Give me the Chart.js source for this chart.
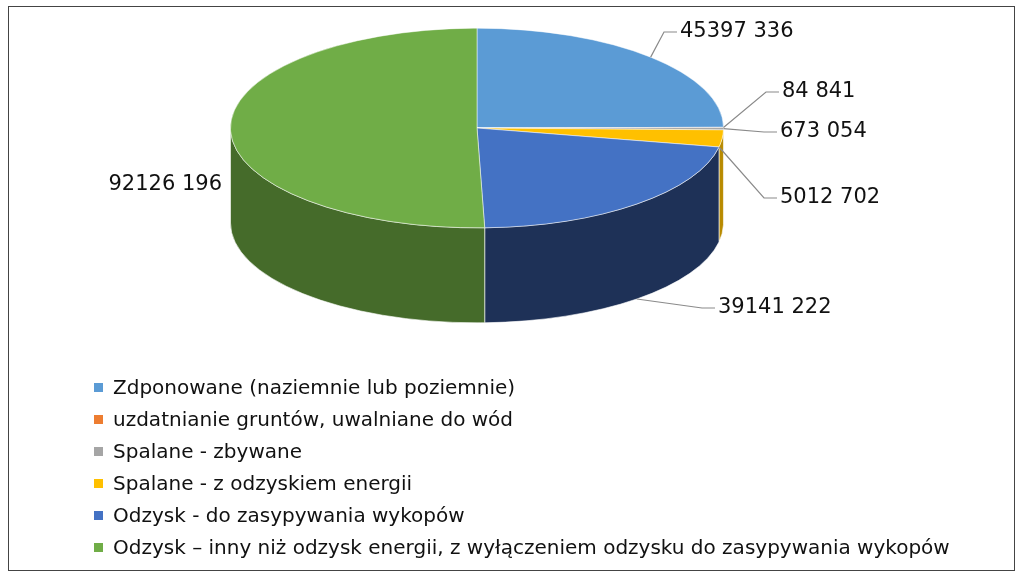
<!DOCTYPE html>
<html><head><meta charset="utf-8">
<script src="https://cdn.jsdelivr.net/npm/chart.js@4"></script>
<style>
body{margin:0;background:#fff;}
#wrap{position:relative;width:1024px;height:579px;}
#frame{position:absolute;left:8px;top:6px;width:1007px;height:565px;border:1px solid #444;box-sizing:border-box;}
canvas{position:absolute;left:0;top:0;}
#legend{position:absolute;left:94px;top:373px;font-family:"DejaVu Sans",sans-serif;font-size:20px;color:#111;}
#legend div{height:32px;line-height:28px;white-space:nowrap;}
#legend span{display:inline-block;width:9px;height:9px;margin-right:10px;vertical-align:2px;}
</style></head><body>
<div id="wrap"><div id="frame"></div><canvas id="c" width="1024" height="579"></canvas><div id="legend"></div></div>
<script>
const categories=["Zdponowane (naziemnie lub poziemnie)","uzdatnianie gruntów, uwalniane do wód","Spalane - zbywane","Spalane - z odzyskiem energii","Odzysk - do zasypywania wykopów","Odzysk – inny niż odzysk energii, z wyłączeniem odzysku do zasypywania wykopów"];
const values=[45397336,84841,673054,5012702,39141222,92126196];
const valueLabels=["45397 336","84 841","673 054","5012 702","39141 222","92126 196"];
const colors=["#5B9BD5","#ED7D31","#A5A5A5","#FFC000","#4472C4","#70AD47"];
const sideColors=["#3A6E9E","#A9561E","#777","#B88A00","#1E3157","#456B2A"];

const CX=477,CY=128,K=0.405,DEPTH=95;
document.getElementById('legend').innerHTML=categories.map((c,i)=>`<div><span style="background:${colors[i]}"></span>${c}</div>`).join('');

function pt(a,R,d){return [CX+R*Math.cos(a),CY+R*K*Math.sin(a)+(d||0)];}
const labelPos=[[680,32,'L'],[782,92,'L'],[780,132,'L'],[780,198,'L'],[718,308,'L'],[222,185,'R']];

const pie3d={id:'pie3d',
 beforeDatasetsDraw(chart){
  const ctx=chart.ctx,meta=chart.getDatasetMeta(0);
  const R=meta.data[0].outerRadius;
  ctx.save();
  meta.data.forEach((el,i)=>{
    const n=x=>{x%=2*Math.PI;if(x<0)x+=2*Math.PI;return x;};
    let s=n(el.startAngle),e=s+(el.endAngle-el.startAngle);
    [[0,Math.PI],[2*Math.PI,3*Math.PI]].forEach(r=>{
      const lo=Math.max(s,r[0]),hi=Math.min(e,r[1]);
      if(hi<=lo)return;
      ctx.beginPath();
      ctx.ellipse(CX,CY,R,R*K,0,lo,hi,false);
      ctx.ellipse(CX,CY+DEPTH,R,R*K,0,hi,lo,true);
      ctx.closePath();
      ctx.fillStyle=sideColors[i];ctx.fill();
      ctx.strokeStyle='rgba(255,255,255,0.6)';ctx.lineWidth=1;ctx.stroke();
    });
  });
  ctx.restore();
  const ca=chart.chartArea;
  ctx.save();
  ctx.translate(CX,CY);ctx.scale(1,K);
  ctx.translate(-(ca.left+ca.right)/2,-(ca.top+ca.bottom)/2);
 },
 afterDatasetsDraw(chart){
  const ctx=chart.ctx;ctx.restore();
  const meta=chart.getDatasetMeta(0);const R=meta.data[0].outerRadius;
  ctx.save();
  ctx.font='21px "DejaVu Sans",sans-serif';ctx.fillStyle='#111';ctx.textBaseline='middle';
  ctx.strokeStyle='#8a8a8a';ctx.lineWidth=1.2;
  meta.data.forEach((el,i)=>{
    const m=(el.startAngle+el.endAngle)/2;
    const lp=labelPos[i];
    ctx.textAlign=lp[2]=='L'?'left':'right';
    ctx.fillText(valueLabels[i],lp[0],lp[1]);
    if(i==5)return;
    let a=pt(m,R,i==4?DEPTH:0);
    if(i==3)a=pt(el.endAngle,R);
    ctx.beginPath();ctx.moveTo(a[0],a[1]);
    ctx.lineTo(lp[0]-16,lp[1]);ctx.lineTo(lp[0]-3,lp[1]);ctx.stroke();
  });
  ctx.restore();
 }};

new Chart(document.getElementById('c'),{
 type:'pie',
 data:{labels:categories,datasets:[{data:values,backgroundColor:colors,borderColor:'rgba(255,255,255,0.7)',borderWidth:1}]},
 options:{responsive:false,animation:false,
  layout:{padding:{left:230,right:300,top:42,bottom:43}},
  plugins:{legend:{display:false},tooltip:{enabled:false}}},
 plugins:[pie3d]
});
</script></body></html>
